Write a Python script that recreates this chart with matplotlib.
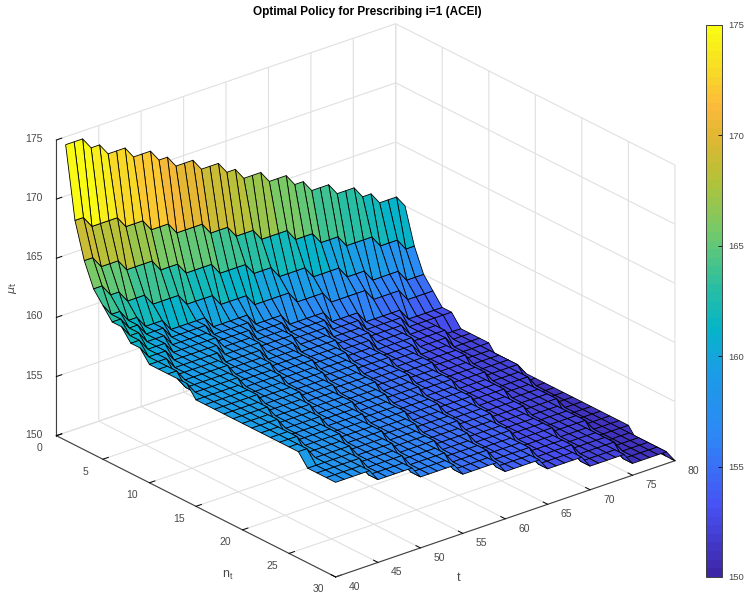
import numpy as np
import matplotlib
matplotlib.use("Agg")
import matplotlib.pyplot as plt
from matplotlib.colors import LinearSegmentedColormap, Normalize
from matplotlib.cm import ScalarMappable
from mpl_toolkits.mplot3d import proj3d

plt.rcParams["font.family"] = ["Liberation Sans", "DejaVu Sans"]
plt.rcParams["mathtext.fontset"] = "custom"
plt.rcParams["mathtext.rm"] = "Liberation Sans"
plt.rcParams["mathtext.it"] = "Liberation Sans:italic"

W, H = 744, 593
GREY = "#484848"

n_values = list(range(1, 31))
t_values = list(range(40, 81))

start_level = [175, 169, 166, 164, 163, 162, 162, 161, 161, 160,
               160, 160, 160, 160, 159, 159, 159, 159, 159, 159,
               159, 159, 159, 159, 159, 159, 158, 158, 158, 158]

# years at which the policy steps down one unit, one list per n_t
drop_years = [
    [43, 45, 48, 51, 53, 56, 59, 61, 64, 67, 69, 72, 75, 77, 80],
    [42, 46, 49, 52, 56, 59, 62, 66, 69, 72, 76, 79],
    [42, 45, 49, 52, 56, 60, 63, 67, 71, 74, 78],
    [42, 44, 47, 51, 55, 59, 64, 68, 73, 77],
    [41, 43, 45, 48, 53, 58, 62, 67, 71, 76],
    [42, 44, 47, 52, 57, 61, 66, 70, 75],
    [41, 43, 46, 51, 56, 60, 65, 69, 74, 78],
    [42, 45, 51, 55, 60, 64, 69, 73, 78],
    [41, 44, 50, 55, 59, 64, 68, 73, 77],
    [43, 49, 54, 58, 63, 67, 72, 76],
    [42, 48, 53, 58, 63, 67, 71, 76, 80],
    [42, 48, 53, 58, 62, 67, 71, 76, 80],
    [41, 47, 52, 57, 62, 66, 71, 75, 80],
    [41, 47, 52, 57, 61, 66, 70, 75, 80],
    [46, 51, 56, 61, 66, 70, 75, 79],
    [46, 51, 56, 61, 65, 70, 74, 79],
    [46, 51, 55, 60, 65, 69, 74, 78],
    [45, 50, 55, 60, 64, 69, 74, 78],
    [45, 50, 55, 59, 64, 69, 73, 78],
    [44, 49, 54, 59, 64, 68, 73, 78],
    [44, 49, 54, 59, 63, 68, 73, 77],
    [43, 48, 53, 58, 63, 68, 72, 77],
    [43, 48, 53, 58, 63, 67, 72, 77],
    [43, 48, 53, 57, 62, 67, 72, 77],
    [42, 47, 52, 57, 62, 67, 72, 76],
    [42, 47, 52, 57, 61, 66, 71, 76, 80],
    [46, 51, 56, 61, 66, 71, 76, 80],
    [46, 51, 56, 61, 66, 71, 76, 80],
    [45, 50, 55, 60, 65, 70, 75, 80],
    [45, 50, 55, 60, 65, 70, 75, 80],
]

n_ticks = [0, 5, 10, 15, 20, 25, 30]
t_ticks = [40, 45, 50, 55, 60, 65, 70, 75, 80]
z_ticks = [150, 155, 160, 165, 170, 175]

parula = LinearSegmentedColormap.from_list("parula", [
    (0.000, (0.2422, 0.1504, 0.6603)),
    (0.125, (0.2810, 0.3228, 0.9579)),
    (0.250, (0.1786, 0.5289, 0.9682)),
    (0.375, (0.1000, 0.6200, 0.9000)),
    (0.450, (0.0200, 0.7100, 0.7800)),
    (0.530, (0.1700, 0.7500, 0.6300)),
    (0.625, (0.4500, 0.7900, 0.4200)),
    (0.720, (0.7000, 0.7600, 0.2200)),
    (0.800, (0.8800, 0.7200, 0.2000)),
    (0.860, (0.9900, 0.7300, 0.2300)),
    (0.930, (0.9700, 0.8700, 0.1400)),
    (1.000, (0.9769, 0.9839, 0.0805)),
], N=64)
norm = Normalize(150, 175)

Z = np.zeros((len(n_values), len(t_values)))
for i, years in enumerate(drop_years):
    for j, t in enumerate(t_values):
        Z[i, j] = start_level[i] - sum(1 for y in years if y <= t)
T, N = np.meshgrid(t_values, n_values)

fig = plt.figure(figsize=(W / 100, H / 100), dpi=100)
side = 640
cx, cy = 357, 309
ax = fig.add_axes([(cx - side / 2) / W, 1 - (cy + side / 2) / H, side / W, side / H],
                  projection="3d", proj_type="ortho")
ax.view_init(elev=24.6, azim=-39.45)
ax.set_box_aspect((1, 1, 0.74), zoom=1.064)
ax.patch.set_alpha(0)

ax.plot_surface(N, T, Z, rstride=1, cstride=1, facecolors=parula(norm(Z)),
                edgecolor="black", linewidth=0.6, shade=False, antialiased=True)

ax.set_xlim(0, 30)
ax.set_ylim(40, 80)
ax.set_zlim(150, 175)
ax.set_xticks(n_ticks)
ax.set_yticks(t_ticks)
ax.set_zticks(z_ticks)
ax.set_xticklabels([])
ax.set_yticklabels([])
ax.set_zticklabels([])
ax.zaxis.set_ticks_position("lower")

for axis in (ax.xaxis, ax.yaxis, ax.zaxis):
    axis.set_pane_color((1, 1, 1, 0))
    axis.pane.set_edgecolor("#e0e0e0")
    axis.line.set_color("#404040")
    axis.line.set_linewidth(0.8)
    axis._axinfo["grid"].update(color="#e0e0e0", linewidth=0.8)
    axis._axinfo["tick"].update(color="#404040", inward_factor=0.0, outward_factor=0.2)
    axis._axinfo["tick"]["linewidth"] = {True: 0.7, False: 0.5}

fig.canvas.draw()


def tick_text(x, y, z, label):
    # MATLAB puts tick labels along the other floor direction, mplot3d's pad can't do that
    xp, yp, _ = proj3d.proj_transform(x, y, z, ax.get_proj())
    px, py = ax.transData.transform((xp, yp))
    fig.text(px / W, py / H, label, fontsize=7.5, color=GREY, ha="center", va="center")


for v in n_ticks:
    tick_text(v, 38, 149.45, str(v))
for v in t_ticks:
    tick_text(32, v, 149.95, str(v))
for v in z_ticks:
    tick_text(-1.08, 38.59, v, str(v))

fig.text(367 / W, 1 - 12 / H, "Optimal Policy for Prescribing i=1 (ACEI)", fontsize=8.5,
         fontweight="bold", ha="center", va="center")
fig.text(228 / W, 1 - 575 / H, r"n$_{\mathrm{t}}$", fontsize=9, color=GREY, ha="center", va="center")
fig.text(459 / W, 1 - 578 / H, "t", fontsize=9, color=GREY, ha="center", va="center")
fig.text(13 / W, 1 - 288 / H, r"$\mu_{\mathrm{t}}$", fontsize=8, color=GREY, ha="center", va="center",
         rotation=90, math_fontfamily="dejavusans")

cax = fig.add_axes([706 / W, 1 - 577 / H, 16 / W, 552 / H])
cbar = fig.colorbar(ScalarMappable(norm=norm, cmap=parula), cax=cax, ticks=z_ticks)
cbar.ax.tick_params(labelsize=6.8, labelcolor=GREY, direction="in", length=3, width=0.6, pad=4.2)
cbar.outline.set_edgecolor("#404040")
cbar.outline.set_linewidth(0.7)

fig.savefig("out.png", dpi=100)
